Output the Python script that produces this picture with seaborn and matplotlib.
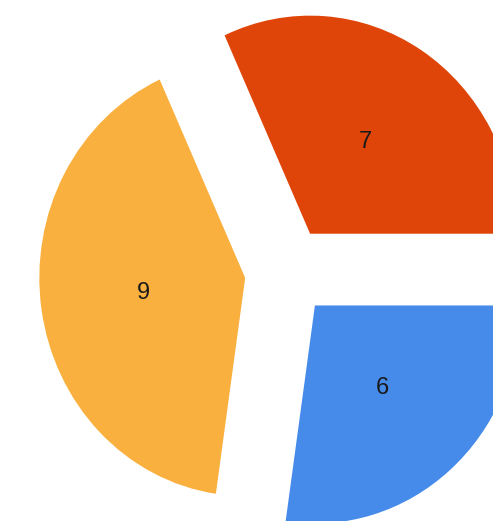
import matplotlib
matplotlib.use("Agg")
import matplotlib.pyplot as plt
import seaborn as sns

# slice values (counter-clockwise from 3 o'clock)
values = [7, 9, 6]
colors = ["#DF4509", "#F9B03E", "#468BEA"]
explode = [0.206, 0.206, 0.206]

sns.set_style("white")
plt.rcParams["font.family"] = ["Liberation Sans", "DejaVu Sans"]

fig = plt.figure(figsize=(4.93, 5.21), dpi=100)
ax = fig.add_axes([0, 0, 1, 1])

wedges, texts, autotexts = ax.pie(
    values,
    colors=colors,
    explode=explode,
    startangle=0,
    counterclock=True,
    autopct=lambda p: "%d" % round(p * sum(values) / 100),
    pctdistance=0.5,
    wedgeprops=dict(linewidth=0),
    textprops=dict(fontsize=17, color="#1a1a1a"),
)

# the picture is cropped on the right and bottom, and slightly squeezed sideways
ax.set_aspect("auto")
ax.set_xlim(-1.395, 1.000)
ax.set_ylim(-1.144, 1.245)
ax.axis("off")

fig.savefig("out.png", dpi=100)
